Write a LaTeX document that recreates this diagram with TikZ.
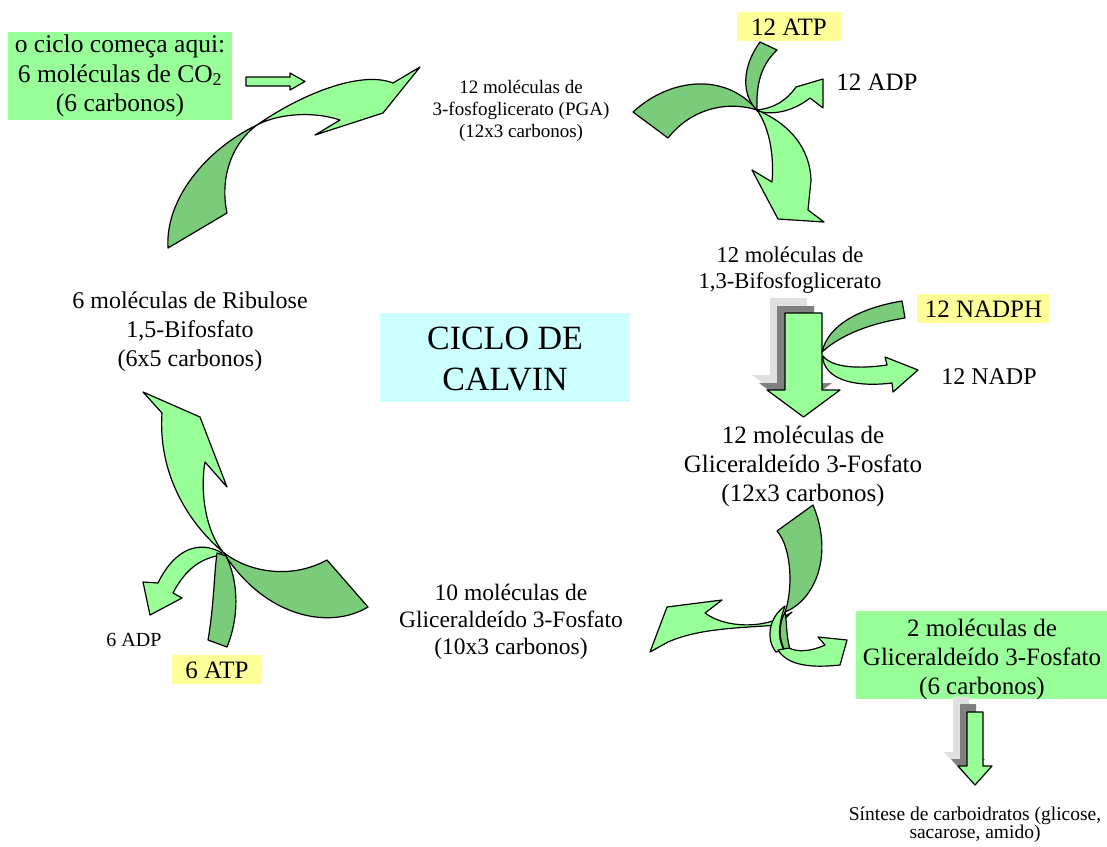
\documentclass[tikz,border=0pt]{standalone}
\usepackage{fontspec}
\setmainfont{Liberation Serif}
\definecolor{lg}{RGB}{153,255,153}
\definecolor{dg}{RGB}{122,204,122}
\definecolor{yl}{RGB}{255,255,153}
\definecolor{cy}{RGB}{204,255,255}
\definecolor{shd}{RGB}{128,128,128}
\definecolor{shl}{RGB}{224,224,224}
\begin{document}
\begin{tikzpicture}[x=1pt,y=-1pt,
  la/.style={fill=lg,draw=black,line width=1.2pt,line join=round},
  da/.style={fill=dg,draw=black,line width=1.2pt,line join=round},
  lbl/.style={align=center,inner sep=0pt,text=black},
  fA/.style={font=\fontsize{25}{29}\selectfont},
]
\path[use as bounding box] (0,0) rectangle (1107,846);

% ---------- boxes ----------
\fill[lg] (8,32) rectangle (232,120);
\fill[yl] (737,12) rectangle (841,41);
\fill[yl] (917,294) rectangle (1050,323);
\fill[yl] (172,655) rectangle (262,684);
\fill[cy] (380,313) rectangle (630,402);
\fill[lg] (856,611) rectangle (1107,699);

% ---------- texts ----------
\node[lbl,font=\fontsize{25.5}{29.5}\selectfont] (start) at (120,76) {o ciclo começa aqui:\\6 moléculas de CO\textsubscript{2}\\(6 carbonos)};
\node[lbl,font=\fontsize{19}{22}\selectfont] (pga) at (521,111) {12 moléculas de\\3-fosfoglicerato (PGA)\\(12x3 carbonos)};
\node[lbl,fA] (atp12) at (789,27) {12 ATP};
\node[lbl,fA] (adp12) at (877,82) {12 ADP};
\node[lbl,font=\fontsize{22.6}{26.5}\selectfont] (bif) at (790,270) {12 moléculas de\\1,3-Bifosfoglicerato};
\node[lbl,fA] (nadph) at (983.5,309) {12 NADPH};
\node[lbl,font=\fontsize{24}{28}\selectfont] (nadp) at (989,377) {12 NADP};
\node[lbl,fA] (g12) at (803,466) {12 moléculas de\\Gliceraldeído 3-Fosfato\\(12x3 carbonos)};
\node[lbl,font=\fontsize{24}{29}\selectfont] (ribu) at (190,332) {6 moléculas de Ribulose\\1,5-Bifosfato\\(6x5 carbonos)};
\node[lbl,font=\fontsize{34}{41.5}\selectfont] (ciclo) at (505,359) {CICLO DE\\CALVIN};
\node[lbl,font=\fontsize{23.5}{26.7}\selectfont] (g10) at (511,622) {10 moléculas de\\Gliceraldeído 3-Fosfato\\(10x3 carbonos)};
\node[lbl,fA] (g2) at (982,659) {2 moléculas de\\Gliceraldeído 3-Fosfato\\(6 carbonos)};
\node[lbl,font=\fontsize{19.5}{18.5}\selectfont] (sint) at (975,825) {Síntese de carboidratos (glicose,\\sacarose, amido)};
\node[lbl,font=\fontsize{20}{24}\selectfont] (adp6) at (134,640) {6 ADP};
\node[lbl,fA] (atp6) at (217,670) {6 ATP};

% ---------- CO2 input arrow ----------
\draw[la] (246,77) -- (290,77) -- (290,73) -- (305,81.5) -- (290,90) -- (290,86) -- (246,86) -- cycle;

% ---------- top-left big arrow ----------
\draw[da] (257,125) .. controls (205,150) and (165,200) .. (168,248) -- (227,213) .. controls (220,180) and (230,145) .. (257,125) -- cycle;
\draw[la] (257,125) .. controls (300,95) and (360,70) .. (393,83) -- (420,67) -- (383,113) -- (315,135) -- (340,120) .. controls (310,110) and (275,115) .. (257,125) -- cycle;

% ---------- top-right group ----------
\draw[da] (633,112) .. controls (670,78) and (725,72) .. (757,110) .. controls (725,100) and (690,110) .. (668,138) -- cycle;
\draw[da] (760,42) .. controls (741,68) and (742,96) .. (757,110) .. controls (756,84) and (761,65) .. (777,50) -- cycle;
\draw[la] (757,110) .. controls (775,108) and (787,100) .. (796,87) -- (823,79) -- (823,108) -- (810,98) .. controls (795,110) and (775,116) .. (757,111) -- cycle;
\draw[la] (757,110) .. controls (771,130) and (774,160) .. (772,182) -- (752,170) -- (778,219) -- (824,222) -- (808,210) -- (811,180) .. controls (810,150) and (792,125) .. (757,110) -- cycle;

% ---------- NADPH group ----------
\fill[shl] (770,298) -- (807,298) -- (807,375) -- (825,375) -- (788.5,402) -- (752,375) -- (770,375) -- cycle;
\fill[shd] (777,306) -- (814,306) -- (814,383) -- (832,383) -- (795.5,410) -- (759,383) -- (777,383) -- cycle;
\draw[la] (785,313) -- (822,313) -- (822,390) -- (840,390) -- (803.5,417) -- (767,390) -- (785,390) -- cycle;
\draw[da] (902,301) .. controls (860,308) and (828,325) .. (822,352) .. controls (835,340) and (860,325) .. (905,318) -- cycle;
\draw[la] (823,356) .. controls (832,368) and (860,369) .. (887,365) -- (885,357) -- (918,370) -- (893,392) -- (892,383) .. controls (860,387) and (828,382) .. (823,360) -- cycle;

% ---------- bottom-right group ----------
\draw[la] (792,612) .. controls (765,630) and (725,628) .. (705,613) -- (722,600) -- (667,607) -- (650,652) -- (668,642) .. controls (700,628) and (740,628) .. (778,625) -- cycle;
\draw[da] (777,531) .. controls (792,548) and (793,590) .. (785,612) .. controls (815,600) and (834,555) .. (813,505) -- cycle;
\draw[la] (785,606) .. controls (768,618) and (766,640) .. (776,652) -- (784,650) .. controls (776,636) and (780,620) .. (785,606) -- cycle;
\draw[da] (785,612) .. controls (778,625) and (779,640) .. (785,651) -- (790,649) .. controls (786,636) and (787,622) .. (785,612) -- cycle;
\draw[la] (778,650) .. controls (788,666) and (812,668) .. (840,665) -- (847,640) -- (818,637) -- (825,645) .. controls (810,652) and (797,652) .. (789,648) -- cycle;

% ---------- output arrow ----------
\fill[shl] (953,697) -- (969,697) -- (969,752) -- (978,752) -- (961,771) -- (944,752) -- (953,752) -- cycle;
\fill[shd] (960,704) -- (976,704) -- (976,759) -- (985,759) -- (968,778) -- (951,759) -- (960,759) -- cycle;
\draw[la] (967,712) -- (983,712) -- (983,766) -- (992,766) -- (975,785) -- (958,766) -- (967,766) -- cycle;

% ---------- bottom-left group ----------
\draw[da] (223,552) .. controls (248,572) and (290,580) .. (327,560) -- (368,607) .. controls (330,630) and (265,618) .. (223,552) -- cycle;
\draw[la] (223,552) .. controls (185,520) and (158,470) .. (162,413) -- (143,392) -- (200,417) -- (227,487) -- (205,462) .. controls (200,490) and (205,530) .. (223,552) -- cycle;
\draw[la] (222,553) .. controls (200,540) and (175,548) .. (158,583) -- (143,582) -- (150,615) -- (182,598) -- (173,593) .. controls (185,570) and (200,558) .. (222,555) -- cycle;
\draw[da] (208,640) .. controls (214,605) and (214,575) .. (217,553) -- (226,556) .. controls (238,580) and (240,615) .. (227,647) -- cycle;
\end{tikzpicture}
\end{document}
